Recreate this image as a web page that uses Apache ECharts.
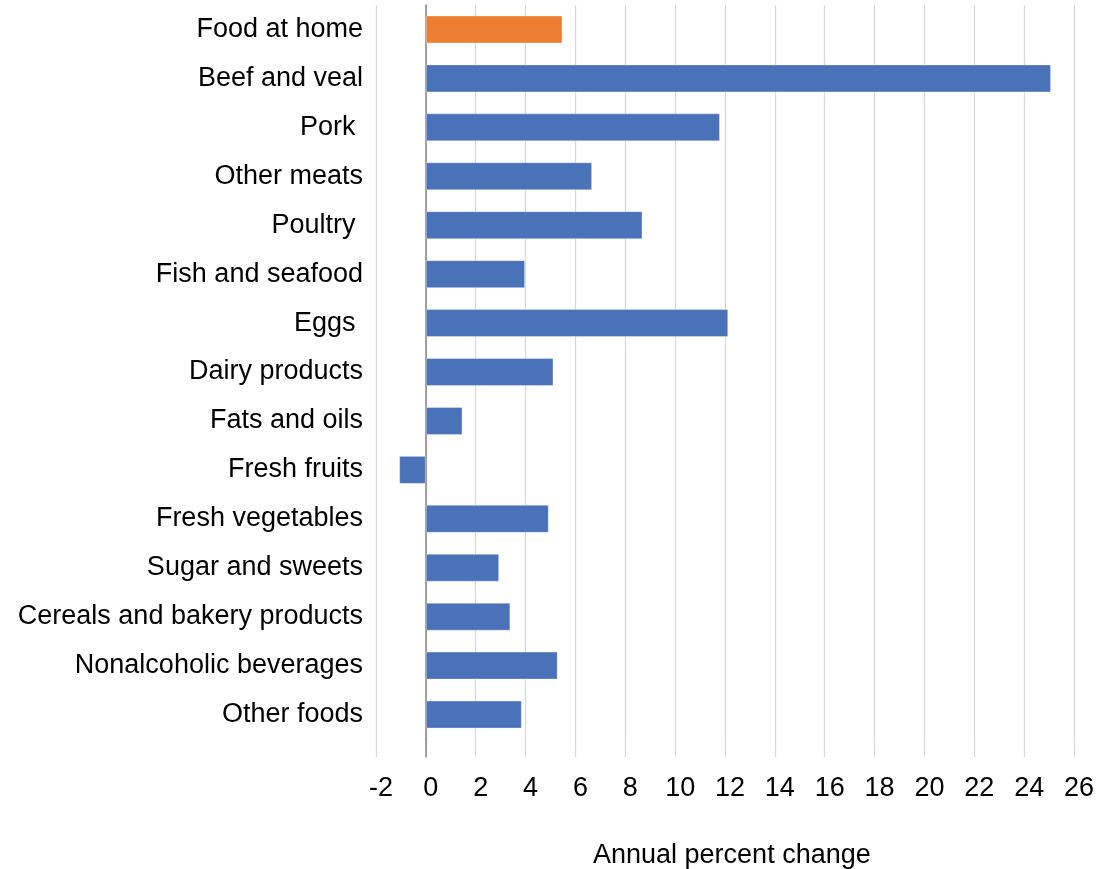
<!DOCTYPE html>
<html>
<head>
<meta charset="utf-8">
<script src="https://cdn.jsdelivr.net/npm/echarts@6/dist/echarts.min.js"></script>
<style>
html,body{margin:0;padding:0;background:#fff;}
#main{width:1114px;height:869px;}
</style>
</head>
<body>
<div id="main"></div>
<script>
const categories = ["Food at home","Beef and veal","Pork ","Other meats","Poultry ","Fish and seafood","Eggs ","Dairy products","Fats and oils","Fresh fruits","Fresh vegetables","Sugar and sweets","Cereals and bakery products","Nonalcoholic beverages","Other foods"];
const values = [5.48, 25.08, 11.8, 6.67, 8.69, 3.98, 12.13, 5.12, 1.47, -1.07, 4.93, 2.94, 3.39, 5.29, 3.85];
const highlightCategory = "Food at home";
const xTicks = { min: -2, max: 26, interval: 2 };
const axisTitle = "Annual percent change";

const FONT = "'Liberation Sans', Arial, Helvetica, sans-serif";
const BLUE = "#4A72B9", ORANGE = "#ED7D31";

const chart = echarts.init(document.getElementById('main'), null, {renderer:'canvas'});
const option = {
  animation: false,
  backgroundColor: '#fff',
  textStyle: { fontFamily: FONT },
  title: {
    text: axisTitle,
    left: 588, top: 837,
    textStyle: { fontFamily: FONT, fontSize: 27, fontWeight: 'normal', color: '#000' }
  },
  grid: [
    { left: 376, right: 40, top: 5, bottom: 130, containLabel: false, outerBoundsMode: 'none' },
    { left: 376, right: 40, top: 739, bottom: 112, containLabel: false, outerBoundsMode: 'none' }
  ],
  xAxis: [
    { gridIndex: 0, type: 'value', min: xTicks.min, max: xTicks.max, interval: xTicks.interval,
      axisLine: { show: false }, axisTick: { show: false }, axisLabel: { show: false },
      splitLine: { show: true, lineStyle: { color: '#d9d9d9', width: 1.3 } } },
    { gridIndex: 1, type: 'value', min: xTicks.min, max: xTicks.max, interval: xTicks.interval,
      axisLine: { show: false }, axisTick: { show: false },
      axisLabel: { show: true, fontSize: 27, color: '#000', fontFamily: FONT, margin: 18, padding: [0, 0, 0, 10] },
      splitLine: { show: true, lineStyle: { color: '#d9d9d9', width: 1.3 } } }
  ],
  yAxis: [
    { gridIndex: 0, type: 'category', data: categories, inverse: true,
      axisLine: { show: true, onZero: true, lineStyle: { color: '#868686', width: 1.5 } },
      axisTick: { show: false },
      axisLabel: { fontSize: 27, color: '#000', fontFamily: FONT, margin: 13, padding: [8, 0, 0, 0] } },
    { gridIndex: 1, type: 'value', min: 0, max: 1,
      axisLine: { show: true, onZero: true, lineStyle: { color: '#868686', width: 1.5 } },
      axisTick: { show: false }, axisLabel: { show: false }, splitLine: { show: false } }
  ],
  series: [
    { type: 'bar', xAxisIndex: 0, yAxisIndex: 0, barWidth: 28,
      data: values.map((v, i) => ({
        value: v,
        itemStyle: { color: categories[i] === highlightCategory ? ORANGE : BLUE }
      })),
      itemStyle: { borderColor: 'rgba(255,255,255,0.35)', borderWidth: 1 }
    }
  ]
};
chart.setOption(option);
</script>
</body>
</html>
